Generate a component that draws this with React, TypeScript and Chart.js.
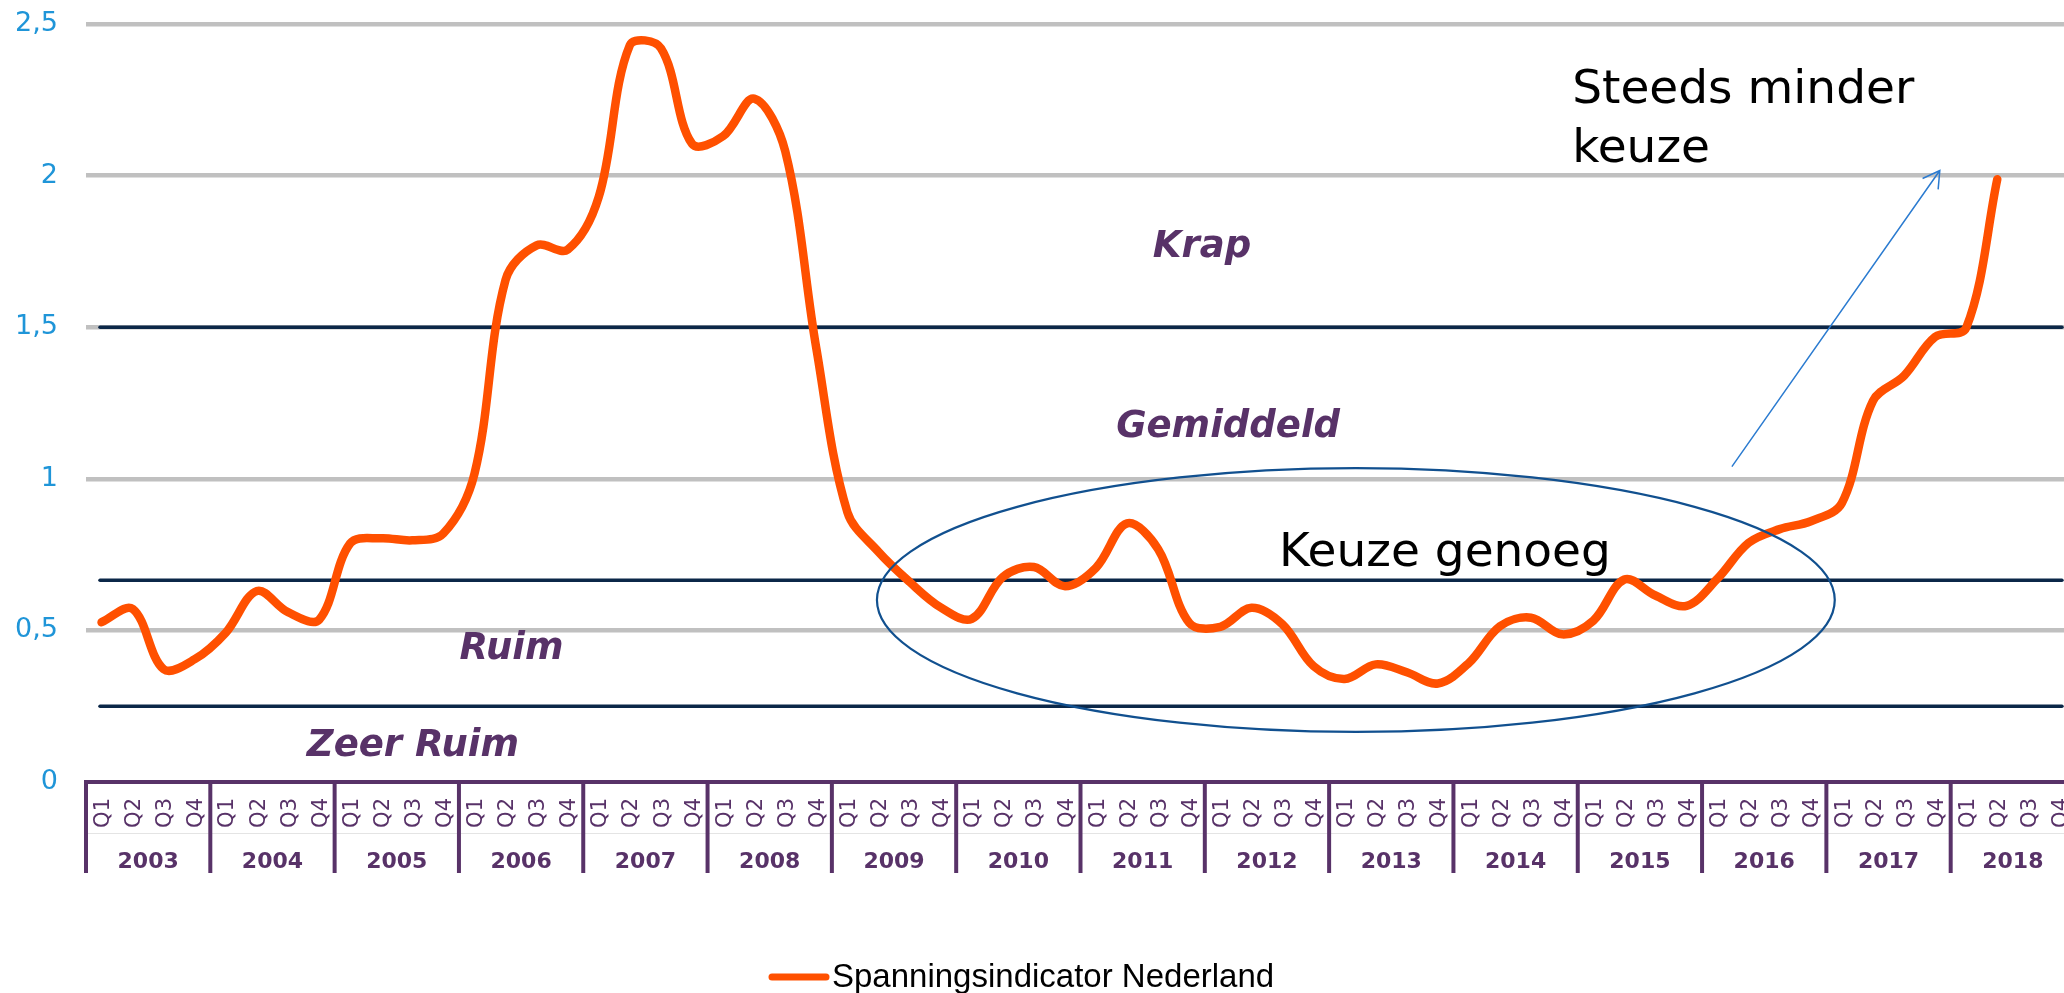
import React, { useEffect, useRef } from "react";
import { Chart, registerables } from "chart.js";

Chart.register(...registerables);

// ---- data ----
const years = ["2003", "2004", "2005", "2006", "2007", "2008", "2009", "2010", "2011", "2012", "2013", "2014", "2015", "2016", "2017", "2018"];
const quarters = ["Q1", "Q2", "Q3", "Q4"];
const categories = years.flatMap((y) => quarters.map((q) => `${q} ${y}`));

const seriesName = "Spanningsindicator Nederland";
const spanning = [
  0.527, 0.571, 0.372, 0.405, // 2003
  0.493, 0.63, 0.56, 0.535, // 2004
  0.787, 0.804, 0.797, 0.82, // 2005
  1.017, 1.656, 1.77, 1.756, // 2006
  1.93, 2.43, 2.42, 2.105, // 2007
  2.13, 2.254, 2.08, 1.43, // 2008
  0.89, 0.759, 0.66, 0.576, // 2009
  0.538, 0.676, 0.709, 0.646, // 2010
  0.707, 0.853, 0.768, 0.525, // 2011
  0.512, 0.575, 0.52, 0.382, // 2012
  0.34, 0.388, 0.362, 0.325, // 2013
  0.393, 0.514, 0.542, 0.487, // 2014
  0.532, 0.668, 0.615, 0.581, // 2015
  0.671, 0.789, 0.834, 0.86, // 2016
  0.92, 1.257, 1.34, 1.468, // 2017
  1.498, 1.988, // 2018
];

const yTickValues = [0, 0.5, 1, 1.5, 2, 2.5];
const yTickLabels = ["0", "0,5", "1", "1,5", "2", "2,5"];

const thresholds = [1.5, 0.665, 0.25];
const zoneNames = ["Krap", "Gemiddeld", "Ruim", "Zeer Ruim"];
const zoneAnchors = [
  [35.41, 1.732],
  [36.25, 1.138],
  [13.19, 0.406],
  [10.02, 0.086],
];
const noteMiddle = "Keuze genoeg";
const noteTop = ["Steeds minder", "keuze"];

// ---- styles ----
const ORANGE = "#ff5000";
const PURPLE = "#583268";
const NAVY = "#0b2748";
const GRID = "#c0c0c0";
const TICKBLUE = "#1f95d8";
const ELLIPSE = "#11508f";
const ARROW = "#2b7bd0";
const FONT = '"DejaVu Sans", Verdana, sans-serif';

const overlay = {
  id: "overlay",
  beforeDatasetsDraw(chart: any) {
    const { ctx, scales } = chart;
    const x = scales.x;
    const y = scales.y;
    ctx.save();
    ctx.strokeStyle = NAVY;
    ctx.lineWidth = 3.5;
    ctx.lineCap = "round";
    for (const t of thresholds) {
      const py = y.getPixelForValue(t);
      ctx.beginPath();
      ctx.moveTo(x.getPixelForValue(-0.05), py);
      ctx.lineTo(x.getPixelForValue(63.08), py);
      ctx.stroke();
    }
    ctx.restore();
  },
  afterDatasetsDraw(chart: any) {
    const { ctx, scales } = chart;
    const x = scales.x;
    const y = scales.y;
    ctx.save();

    // zone labels
    ctx.fillStyle = PURPLE;
    ctx.font = `italic bold 37px ${FONT}`;
    ctx.textAlign = "center";
    ctx.textBaseline = "alphabetic";
    zoneNames.forEach((name, i) => {
      const [ix, v] = zoneAnchors[i];
      ctx.fillText(name, x.getPixelForValue(ix), y.getPixelForValue(v));
    });

    // ellipse
    const cx = x.getPixelForValue(40.36);
    const cy = y.getPixelForValue(0.6);
    const rx = x.getPixelForValue(40.36 + 15.41) - cx;
    const ry = cy - y.getPixelForValue(0.6 + 0.435);
    ctx.strokeStyle = ELLIPSE;
    ctx.lineWidth = 2.2;
    ctx.beginPath();
    ctx.ellipse(cx, cy, rx, ry, 0, 0, Math.PI * 2);
    ctx.stroke();

    // arrow
    const x1 = x.getPixelForValue(52.46);
    const y1 = y.getPixelForValue(1.04);
    const x2 = x.getPixelForValue(59.15);
    const y2 = y.getPixelForValue(2.017);
    ctx.strokeStyle = ARROW;
    ctx.lineWidth = 1.5;
    ctx.beginPath();
    ctx.moveTo(x1, y1);
    ctx.lineTo(x2, y2);
    const back = Math.atan2(y1 - y2, x1 - x2);
    const head = 19;
    const spread = (30 * Math.PI) / 180;
    ctx.moveTo(x2 + head * Math.cos(back + spread), y2 + head * Math.sin(back + spread));
    ctx.lineTo(x2, y2);
    ctx.lineTo(x2 + head * Math.cos(back - spread), y2 + head * Math.sin(back - spread));
    ctx.stroke();

    // notes
    ctx.fillStyle = "#000000";
    ctx.font = `47px ${FONT}`;
    ctx.textAlign = "left";
    ctx.fillText(noteMiddle, x.getPixelForValue(37.89), y.getPixelForValue(0.712));
    ctx.fillText(noteTop[0], x.getPixelForValue(47.32), y.getPixelForValue(2.238));
    ctx.fillText(noteTop[1], x.getPixelForValue(47.32), y.getPixelForValue(2.046));
    ctx.restore();
  },
  afterDraw(chart: any) {
    const { ctx, scales, chartArea } = chart;
    const x = scales.x;
    const axisY = chartArea.bottom;
    ctx.save();

    // faint row separator
    ctx.strokeStyle = "#e4e4e4";
    ctx.lineWidth = 1;
    ctx.beginPath();
    ctx.moveTo(chartArea.left, axisY + 51.5);
    ctx.lineTo(chartArea.right, axisY + 51.5);
    ctx.stroke();

    // year separators
    ctx.strokeStyle = PURPLE;
    ctx.lineWidth = 4;
    for (let k = 0; k <= years.length; k++) {
      const px = x.getPixelForValue(k * 4 - 0.5);
      ctx.beginPath();
      ctx.moveTo(px, axisY);
      ctx.lineTo(px, axisY + 91);
      ctx.stroke();
    }

    // quarter labels (rotated)
    ctx.fillStyle = PURPLE;
    ctx.font = `21px ${FONT}`;
    ctx.textAlign = "right";
    ctx.textBaseline = "alphabetic";
    categories.forEach((_, i) => {
      const px = x.getPixelForValue(i);
      ctx.save();
      ctx.translate(px, axisY + 16);
      ctx.rotate(-Math.PI / 2);
      ctx.fillText(quarters[i % 4], 0, 7.6);
      ctx.restore();
    });

    // year labels
    ctx.font = `bold 22px ${FONT}`;
    ctx.textAlign = "center";
    years.forEach((yr, k) => {
      ctx.fillText(yr, x.getPixelForValue(k * 4 + 1.5), axisY + 86);
    });

    // legend
    ctx.strokeStyle = ORANGE;
    ctx.lineWidth = 7;
    ctx.lineCap = "round";
    ctx.beginPath();
    ctx.moveTo(772, 977);
    ctx.lineTo(826, 977);
    ctx.stroke();
    ctx.fillStyle = "#000000";
    ctx.font = '33px "Liberation Sans", Arial, sans-serif';
    ctx.textAlign = "left";
    ctx.fillText(seriesName, 832, 987);
    ctx.restore();
  },
};

export default function App() {
  const canvasRef = useRef<HTMLCanvasElement | null>(null);

  useEffect(() => {
    const canvas = canvasRef.current;
    if (!canvas) return;
    const chart = new Chart(canvas, {
      type: "line",
      data: {
        labels: categories,
        datasets: [
          {
            label: seriesName,
            data: spanning,
            borderColor: ORANGE,
            backgroundColor: ORANGE,
            borderWidth: 8.5,
            tension: 0.35,
            pointRadius: 0,
            pointHoverRadius: 0,
            borderCapStyle: "round",
            borderJoinStyle: "round",
            fill: false,
          },
        ],
      },
      options: {
        responsive: false,
        animation: false,
        devicePixelRatio: 1,
        layout: { padding: { top: 24, left: 0, right: 0, bottom: 0 } },
        plugins: {
          legend: { display: false },
          tooltip: { enabled: false },
        },
        scales: {
          x: {
            type: "category",
            offset: true,
            grid: { display: false, drawTicks: false },
            border: { display: true, color: PURPLE, width: 4 },
            ticks: { display: false },
            afterFit: (s: any) => {
              s.height = 211;
            },
          },
          y: {
            min: 0,
            max: 2.5,
            ticks: {
              stepSize: 0.5,
              padding: 0,
              color: TICKBLUE,
              font: { family: "DejaVu Sans", size: 27 },
              callback: (v: any) => {
                const idx = yTickValues.indexOf(Number(v));
                return idx >= 0 ? yTickLabels[idx] : "";
              },
            },
            grid: {
              drawTicks: true,
              tickLength: 28,
              tickColor: "rgba(0,0,0,0)",
              lineWidth: 4.5,
              color: (c: any) => (c.tick && c.tick.value === 0 ? "rgba(0,0,0,0)" : GRID),
            },
            border: { display: false },
            afterFit: (s: any) => {
              s.width = 86;
            },
          },
        },
      },
      plugins: [overlay],
    });
    return () => chart.destroy();
  }, []);

  return (
    <div
      style={{
        position: "fixed",
        left: 0,
        top: 0,
        width: 2064,
        height: 993,
        overflow: "hidden",
        background: "#ffffff",
      }}
    >
      <canvas ref={canvasRef} width={2075} height={993} style={{ display: "block", width: 2075, height: 993 }} />
    </div>
  );
}
